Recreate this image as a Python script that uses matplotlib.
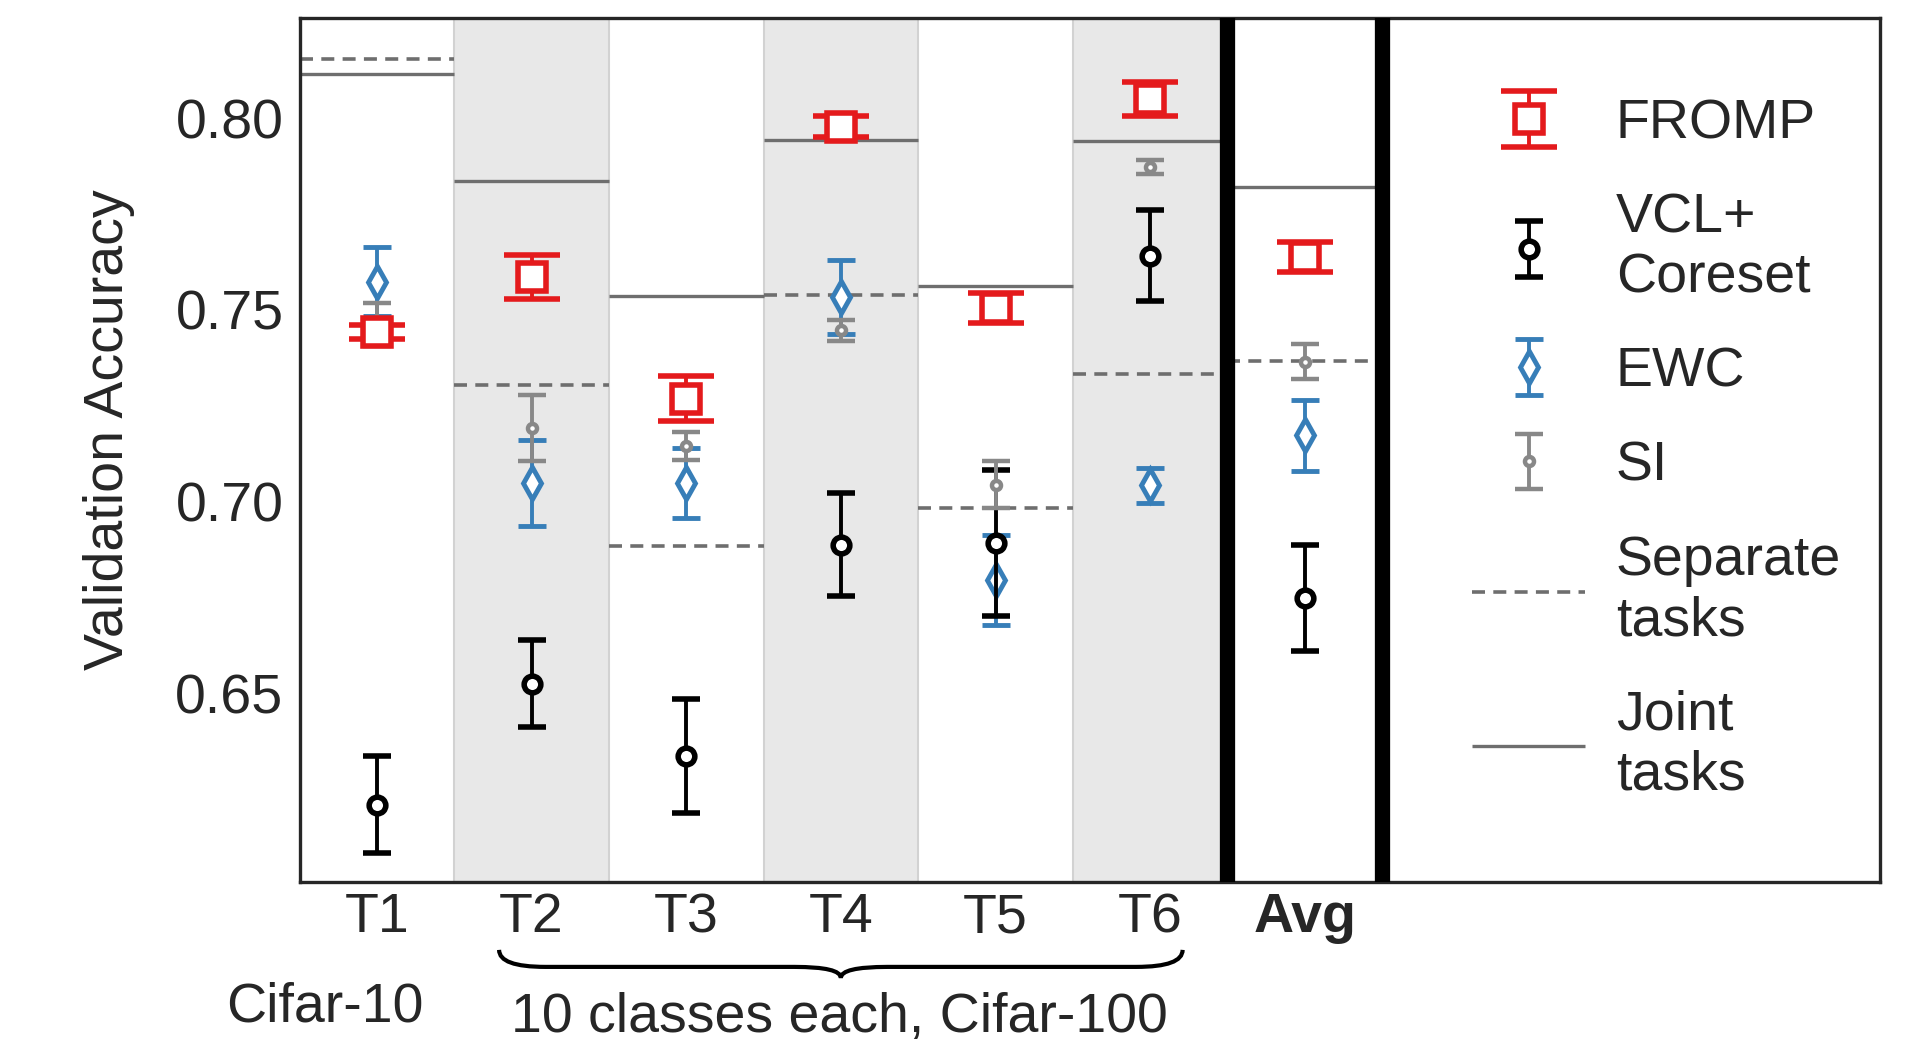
import matplotlib
matplotlib.use('Agg')
import matplotlib.pyplot as plt
import matplotlib.transforms as mtransforms
from matplotlib.path import Path
from matplotlib.patches import PathPatch
import numpy as np

plt.rcParams['font.family'] = ['Liberation Sans', 'DejaVu Sans']
plt.rcParams['font.size'] = 40

# Data
tasks = ['T1', 'T2', 'T3', 'T4', 'T5', 'T6', 'Avg']

fromp_mean = [0.7442, 0.7585, 0.7269, 0.7978, 0.7505, 0.8050, 0.7638]
fromp_err = [0.0019, 0.0057, 0.0058, 0.0027, 0.0038, 0.0045, 0.0038]
vcl_mean = [0.6211, 0.6526, 0.6337, 0.6888, 0.6893, 0.7641, 0.6750]
vcl_err = [0.0126, 0.0114, 0.0148, 0.0134, 0.0190, 0.0119, 0.0138]
ewc_mean = [0.7573, 0.7049, 0.7049, 0.7534, 0.6797, 0.7043, 0.7173]
ewc_err = [0.0090, 0.0113, 0.0092, 0.0097, 0.0117, 0.0046, 0.0093]
si_mean = [0.7462, 0.7192, 0.7145, 0.7447, 0.7045, 0.7872, 0.7365]
si_err = [0.0056, 0.0087, 0.0036, 0.0028, 0.0060, 0.0018, 0.0045]
separate = [0.8153, 0.7305, 0.6885, 0.7538, 0.6984, 0.7333, 0.7367]
joint = [0.8116, 0.7835, 0.7537, 0.7942, 0.7563, 0.7940, 0.7821]

text_col = '#262626'
line_gray = '#6e6e6e'

fig = plt.figure(figsize=(19.24, 10.43), dpi=100)
ax = fig.add_axes([0.1557, 0.1547, 0.8215, 0.8281])
x = np.arange(len(tasks))

# shaded task columns
for i in [1, 3, 5]:
    ax.axvspan(i - 0.5, i + 0.5, fc='#e8e8e8', ec='#d2d2d2', lw=1.5, zorder=0)

sep = ax.hlines(separate, x - 0.5, x + 0.5, colors=line_gray, linestyles=(0, (3.6, 2.3)),
                lw=2.6, label='Separate\ntasks', zorder=2)
jnt = ax.hlines(joint, x - 0.5, x + 0.5, colors=line_gray, lw=2.4,
                label='Joint\ntasks', zorder=2)

ewc = ax.errorbar(x, ewc_mean, yerr=ewc_err, fmt='d', color='#377eb8', mfc='white',
                  mec='#377eb8', ms=16, mew=3.5, elinewidth=2.8, capsize=10, capthick=3.6,
                  zorder=3, label='EWC')
vcl = ax.errorbar(x, vcl_mean, yerr=vcl_err, fmt='o', color='black', mfc='white',
                  mec='black', ms=12, mew=4, elinewidth=2.8, capsize=10, capthick=3.6,
                  zorder=4, label='VCL+\nCoreset')
si = ax.errorbar(x, si_mean, yerr=si_err, fmt='o', color='#888888', mfc='white',
                 mec='#888888', ms=6.5, mew=3.2, elinewidth=2.8, capsize=10, capthick=3.6,
                 zorder=5, label='SI')
fromp = ax.errorbar(x, fromp_mean, yerr=fromp_err, fmt='s', color='#e41a1c', mfc='white',
                    mec='#e41a1c', ms=20, mew=4, elinewidth=2.8, capsize=20.5, capthick=3.6,
                    zorder=6, label='FROMP')

# thick separators around the average column
ax.axvline(5.5, color='black', lw=11, zorder=7)
ax.axvline(6.5, color='black', lw=11, zorder=7)

ax.set_xlim(-0.5, 9.72)
ax.set_ylim(0.601, 0.8261)
ax.set_yticks([0.65, 0.70, 0.75, 0.80])
ax.set_yticklabels(['0.65', '0.70', '0.75', '0.80'])
ax.set_xticks(x)
ax.set_xticklabels(tasks)
ax.get_xticklabels()[-1].set_fontweight('bold')
ax.tick_params(axis='both', length=0, colors=text_col, labelsize=40)
ax.tick_params(axis='x', pad=7.6)
ax.tick_params(axis='y', pad=11.5)
for s in ax.spines.values():
    s.set_color(text_col)
    s.set_linewidth(2.4)

ax.set_ylabel('Validation Accuracy', fontsize=40, color=text_col)
ax.yaxis.set_label_coords(-0.104, 0.523)

ax.legend(handles=[fromp, vcl, ewc, si, sep, jnt], loc='upper left',
          bbox_to_anchor=(0.742, 0.907), frameon=False, handlelength=2.03,
          handletextpad=0.55, labelspacing=0.76, borderpad=0, borderaxespad=0,
          fontsize=40, labelcolor=text_col)

# brace and group labels below the axis
trans = mtransforms.blended_transform_factory(ax.transData, ax.transAxes)
x0, x1, xm, r = 0.79, 5.21, 3.0, 0.3
ytop, yline, ytip = -0.079, -0.0987, -0.1115
verts = [(x0, ytop), (x0, yline), (x0 + r, yline),
         (xm - r, yline),
         (xm, yline), (xm, ytip),
         (xm, yline), (xm + r, yline),
         (x1 - r, yline),
         (x1, yline), (x1, ytop)]
codes = [Path.MOVETO, Path.CURVE3, Path.CURVE3,
         Path.LINETO,
         Path.CURVE3, Path.CURVE3,
         Path.CURVE3, Path.CURVE3,
         Path.LINETO,
         Path.CURVE3, Path.CURVE3]
brace = PathPatch(Path(verts, codes), fill=False, ec='black', lw=3,
                  transform=trans, clip_on=False)
ax.add_patch(brace)

ax.text(-0.334, -0.146, 'Cifar-10', transform=trans, ha='center', va='center',
        fontsize=40, color=text_col)
ax.text(2.99, -0.158, '10 classes each, Cifar-100', transform=trans, ha='center',
        va='center', fontsize=40, color=text_col)

fig.savefig('out.png', dpi=100)
